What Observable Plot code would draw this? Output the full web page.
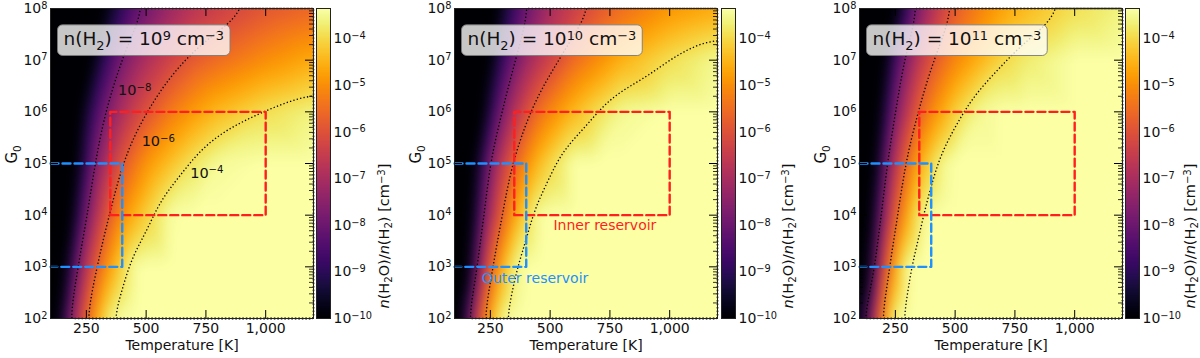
<!DOCTYPE html>
<html><head><meta charset="utf-8">
<script src="https://cdn.jsdelivr.net/npm/d3@7"></script>
<script src="https://cdn.jsdelivr.net/npm/@observablehq/plot@0.6"></script>
<style>
body{margin:0;background:#fff;}
#root{position:relative;width:1200px;height:358px;overflow:hidden;background:#fff;}
#root svg{position:absolute;top:0;}
</style></head><body><div id="root"></div>
<script>
// ---------- data ----------
const temperatures = [100,125,150,175,200,225,250,300,350,400,450,500,600,700,800,1000,1200];
const logG0 = [2,3,4,5,6,7,8];
const densityExponents = [9,10,11];
// log10 n(H2O)/n(H2); rows = logG0, columns = temperatures
const logAbundance9 = [
 [-11,-11,-9.4,-8.1,-7.1,-6.4,-5.7,-4.5,-3.6,-3.35,-3.35,-3.35,-3.35,-3.35,-3.35,-3.35,-3.35],
 [-11,-11,-10.9,-9.4,-8.3,-7.4,-6.7,-5.6,-4.7,-4.0,-3.4,-3.35,-3.35,-3.35,-3.35,-3.35,-3.35],
 [-11,-11,-11,-10.9,-9.6,-8.6,-7.8,-6.6,-5.7,-5.0,-4.5,-4.1,-3.4,-3.35,-3.35,-3.35,-3.35],
 [-11,-11,-11,-11,-10.5,-9.5,-8.7,-7.4,-6.6,-5.9,-5.4,-4.9,-4.3,-3.8,-3.45,-3.35,-3.35],
 [-11,-11,-11,-11,-11,-10.2,-9.4,-8.3,-7.5,-6.9,-6.4,-6.0,-5.3,-4.8,-4.4,-3.9,-3.6],
 [-11,-11,-11,-11,-11,-11,-10.6,-9.4,-8.5,-7.8,-7.3,-6.9,-6.3,-5.8,-5.5,-5.0,-4.6],
 [-11,-11,-11,-11,-11,-11,-11,-10.5,-9.6,-8.9,-8.3,-7.9,-7.2,-6.7,-6.4,-5.9,-5.6]
];
const logAbundance10 = [
 [-11,-10.7,-8.7,-7.3,-6.3,-5.3,-4.6,-3.5,-3.35,-3.35,-3.35,-3.35,-3.35,-3.35,-3.35,-3.35,-3.35],
 [-11,-11,-10.8,-9.0,-7.7,-6.6,-5.8,-4.5,-3.6,-3.35,-3.35,-3.35,-3.35,-3.35,-3.35,-3.35,-3.35],
 [-11,-11,-11,-10.0,-8.7,-7.7,-6.9,-5.7,-4.7,-4.0,-3.4,-3.35,-3.35,-3.35,-3.35,-3.35,-3.35],
 [-11,-11,-11,-10.7,-9.5,-8.5,-7.7,-6.5,-5.7,-5.0,-4.4,-4.0,-3.35,-3.35,-3.35,-3.35,-3.35],
 [-11,-11,-11,-11,-10.9,-9.9,-9.0,-7.7,-6.8,-6.1,-5.5,-5.1,-4.4,-3.9,-3.5,-3.35,-3.35],
 [-11,-11,-11,-11,-11,-10.9,-10.0,-8.8,-7.9,-7.2,-6.7,-6.3,-5.5,-5.0,-4.5,-3.9,-3.5],
 [-11,-11,-11,-11,-11,-11,-10.9,-9.6,-8.7,-8.0,-7.5,-7.0,-6.4,-5.9,-5.5,-4.9,-4.6]
];
const logAbundance11 = [
 [-11,-8.8,-7.3,-6.2,-5.1,-4.2,-3.5,-3.35,-3.35,-3.35,-3.35,-3.35,-3.35,-3.35,-3.35,-3.35,-3.35],
 [-11,-11,-9.1,-7.5,-6.3,-5.4,-4.6,-3.4,-3.35,-3.35,-3.35,-3.35,-3.35,-3.35,-3.35,-3.35,-3.35],
 [-11,-11,-10.2,-8.6,-7.5,-6.6,-5.8,-4.6,-3.7,-3.35,-3.35,-3.35,-3.35,-3.35,-3.35,-3.35,-3.35],
 [-11,-11,-11,-9.7,-8.4,-7.4,-6.7,-5.5,-4.6,-4.0,-3.5,-3.35,-3.35,-3.35,-3.35,-3.35,-3.35],
 [-11,-11,-11,-10.7,-9.4,-8.5,-7.7,-6.6,-5.7,-5.1,-4.6,-4.1,-3.5,-3.35,-3.35,-3.35,-3.35],
 [-11,-11,-11,-11,-10.4,-9.4,-8.6,-7.5,-6.6,-6.0,-5.5,-5.1,-4.5,-4.0,-3.7,-3.35,-3.35],
 [-11,-11,-11,-11,-11,-11,-10.1,-8.7,-7.6,-6.9,-6.3,-5.8,-5.2,-4.7,-4.4,-3.9,-3.6]
];
const contourLevels = [-8,-6,-4];
const colorDomainLog = [-10,-3.35];
const colorTickExponents = [-10,-9,-8,-7,-6,-5,-4];
const tempTicks = [250,500,750,1000];
const g0TickExponents = [2,3,4,5,6,7,8];
const innerT = [350,1000], innerG0 = [1e4,1e6];
const outerT = [100,400], outerG0 = [1e3,1e5];
const contourLabelText = ["10⁻⁸","10⁻⁶","10⁻⁴"];
const contourLabelT = [452,551,754];
const contourLabelG0 = [2.6e6,2.7e5,6.5e4];
const reservoirNames = ["Inner reservoir","Outer reservoir"];
const reservoirColors = ["#ff1f1f","#1e90ff"];
const reservoirLabelT = [729,437];
const reservoirLabelG0 = [6.2e3,6.0e2];

// ---------- helpers ----------
const SUP = {"0":"⁰","1":"¹","2":"²","3":"³","4":"⁴","5":"⁵","6":"⁶","7":"⁷","8":"⁸","9":"⁹","-":"⁻"};
const SUPBACK = {"⁰":"0","¹":"1","²":"2","³":"3","⁴":"4","⁵":"5","⁶":"6","⁷":"7","⁸":"8","⁹":"9","⁻":"−"};
const SUBBACK = {"₀":"0","₁":"1","₂":"2","₃":"3"};
const powLabel = e => "10" + [...String(e)].map(c => SUP[c]).join("");
const FONT = "DejaVu Sans";
const FW = 263, FH = 310, ML = 50, MT = 8, MB = 40;
const panelLeft = [0,404,809];
const cbLeft = [316,721,1125];
const cbLabelDx = [54,53,51];
const abundances = [logAbundance9, logAbundance10, logAbundance11];
const cbLabel = "n(H₂O)/n(H₂) [cm⁻³]";
const colorScale = {type:"linear", scheme:"inferno", domain: colorDomainLog, clamp:true};
const root = document.getElementById("root");

function place(svg, left) {
  svg.style.position = "absolute";
  svg.style.left = left + "px";
  svg.style.top = "0px";
  root.appendChild(svg);
  return svg;
}
const esc = s => s.replace(/&/g,"&amp;").replace(/</g,"&lt;");
// render unicode super/subscripts as mathtext-like raised/lowered smaller tspans
function mathify(el, italicN) {
  const chars = [...el.textContent];
  if (!chars.some(c => SUPBACK[c] || SUBBACK[c])) return;
  const fs = parseFloat(getComputedStyle(el).fontSize) || 14;
  const kindOf = c => SUPBACK[c] ? "sup" : SUBBACK[c] ? "sub" : "n";
  let html = "", shift = 0, i = 0;
  while (i < chars.length) {
    const kind = kindOf(chars[i]);
    let run = "";
    while (i < chars.length && kindOf(chars[i]) === kind) { run += SUPBACK[chars[i]] || SUBBACK[chars[i]] || chars[i]; i++; }
    const target = kind === "sup" ? -0.3 * fs : kind === "sub" ? 0.22 * fs : 0;
    const dy = +(target - shift).toFixed(2); shift = target;
    let attrs = (kind !== "n" ? ` font-size="${(0.7 * fs).toFixed(2)}"` : "") + (dy !== 0 ? ` dy="${dy}"` : "");
    let body = esc(run);
    if (italicN && kind === "n") body = body.replace(/\bn\(/g, '<tspan font-style="italic">n</tspan>(');
    html += attrs ? `<tspan${attrs}>${body}</tspan>` : body;
  }
  el.innerHTML = html;
}

function mainPanel(k) {
  const grid = [];
  abundances[k].forEach((row, r) => row.forEach((v, c) =>
    grid.push({T: temperatures[c], G: Math.pow(10, logG0[r]), v})));
  const ext = {x1: temperatures[0], x2: temperatures[temperatures.length-1],
               y1: Math.pow(10, logG0[0]), y2: Math.pow(10, logG0[logG0.length-1])};
  const inner = [[innerT[0],innerG0[0]],[innerT[1],innerG0[0]],[innerT[1],innerG0[1]],[innerT[0],innerG0[1]],[innerT[0],innerG0[0]]];
  const outer = [[outerT[0],outerG0[1]],[outerT[1],outerG0[1]],[outerT[1],outerG0[0]],[outerT[0],outerG0[0]]];
  const g0Major = g0TickExponents.map(e => Math.pow(10, e));
  const g0Minor = [];
  for (let e = g0TickExponents[0]; e < g0TickExponents[g0TickExponents.length-1]; e++)
    for (let m = 2; m <= 9; m++) g0Minor.push(m * Math.pow(10, e));
  const boxLabel = "n(H₂) = " + powLabel(densityExponents[k]) + " cm⁻³";
  const marks = [
    Plot.raster(grid, {x:"T", y:"G", fill:"v", interpolate:"barycentric", blur:5, ...ext}),
    Plot.contour(grid, {x:"T", y:"G", value:"v", interpolate:"barycentric", ...ext, blur:8,
      thresholds: contourLevels, stroke:"black", fill:"none", strokeWidth:1.3, strokeDasharray:"1.3,2.2"}),
    Plot.line(inner, {x:d=>d[0], y:d=>d[1], stroke:reservoirColors[0], strokeWidth:2.4, strokeDasharray:"8,4"}),
    Plot.line(outer, {x:d=>d[0], y:d=>d[1], stroke:reservoirColors[1], strokeWidth:2.4, strokeDasharray:"8,4"}),
    Plot.tickX(tempTicks, {x:d=>d, insetTop: FH-8, stroke:"black"}),
    Plot.tickX(tempTicks, {x:d=>d, insetBottom: FH-8, stroke:"black"}),
    Plot.tickY(g0Major, {y:d=>d, insetLeft: FW-8, stroke:"black"}),
    Plot.tickY(g0Major, {y:d=>d, insetRight: FW-8, stroke:"black"}),
    Plot.tickY(g0Minor, {y:d=>d, insetLeft: FW-4, stroke:"black", strokeWidth:0.8}),
    Plot.tickY(g0Minor, {y:d=>d, insetRight: FW-4, stroke:"black", strokeWidth:0.8}),
    Plot.frame({stroke:"#222"}),
    Plot.axisX(tempTicks, {anchor:"bottom", tickSize:0, tickPadding:5, fontSize:14, label:null, fill:"#111"}),
    Plot.axisY(g0Major, {anchor:"left", tickSize:0, tickPadding:3, fontSize:14, label:null, fill:"#111",
      tickFormat: d => powLabel(Math.round(Math.log10(d)))}),
    Plot.text(["Temperature [K]"], {text:d=>d, frameAnchor:"bottom", dy:31, fontSize:14, fill:"#111"}),
    Plot.text(["G₀"], {text:d=>d, frameAnchor:"left", dx:-38, rotate:-90, fontSize:15, fill:"#111"}),
    Plot.text([boxLabel], {text:d=>d, frameAnchor:"top-left", lineAnchor:"middle", dx:13, dy:31, textAnchor:"start", fontSize:18.5, fill:"#111"})
  ];
  if (k === 0) {
    marks.push(Plot.text(contourLabelText, {x:(d,i)=>contourLabelT[i], y:(d,i)=>contourLabelG0[i], text:d=>d, fontSize:14.5, fill:"#111"}));
  }
  if (k === 1) {
    marks.push(Plot.text(reservoirNames, {x:(d,i)=>reservoirLabelT[i], y:(d,i)=>reservoirLabelG0[i], text:d=>d, fontSize:14,
      fill:(d,i)=>reservoirColors[i]}));
  }
  const svg = Plot.plot({
    width: ML + FW + 2, height: MT + FH + MB,
    marginLeft: ML, marginRight: 2, marginTop: MT, marginBottom: MB,
    x: {domain: [ext.x1, ext.x2], axis: null},
    y: {type: "log", domain: [ext.y1, ext.y2], axis: null},
    color: colorScale,
    style: {fontFamily: FONT, fontSize: "14px", overflow: "visible", background: "transparent"},
    marks
  });
  place(svg, panelLeft[k]);
  let boxEl = null;
  d3.select(svg).selectAll("text").each(function(){
    if (this.textContent === boxLabel) boxEl = this;
    mathify(this, false);
  });
  // rounded translucent box behind the density label
  if (boxEl) {
    const b = boxEl.getBBox();
    const rect = document.createElementNS("http://www.w3.org/2000/svg", "rect");
    rect.setAttribute("x", b.x - 6); rect.setAttribute("y", b.y - 3);
    rect.setAttribute("width", b.width + 12); rect.setAttribute("height", b.height + 6);
    rect.setAttribute("rx", 5); rect.setAttribute("fill", "white"); rect.setAttribute("fill-opacity", 0.78);
    rect.setAttribute("stroke", "#7a7a7a"); rect.setAttribute("stroke-opacity", 0.9);
    const tr = boxEl.getAttribute("transform");
    if (tr) rect.setAttribute("transform", tr);
    boxEl.parentNode.insertBefore(rect, boxEl);
  }
}

function colorbar(k) {
  const w = k === 2 ? 75 : 84;
  const svg = Plot.plot({
    width: w, height: MT + FH + MB,
    marginLeft: 0, marginRight: w - 14, marginTop: MT, marginBottom: MB,
    x: {domain: [0,1], axis: null},
    y: {domain: colorDomainLog, axis: null},
    color: colorScale,
    style: {fontFamily: FONT, fontSize: "14px", overflow: "visible", background: "transparent"},
    marks: [
      Plot.raster({fill: (x, y) => y, x1: 0, x2: 1, y1: colorDomainLog[0], y2: colorDomainLog[1]}),
      Plot.frame({stroke:"#222"}),
      Plot.axisY(colorTickExponents, {anchor:"right", tickSize:0, tickPadding:3, fontSize:14, label:null, fill:"#111",
        tickFormat: powLabel}),
      Plot.text([cbLabel], {text:d=>d, frameAnchor:"right", dx:cbLabelDx[k], rotate:-90, fontSize:14.5, fill:"#111"})
    ]
  });
  place(svg, cbLeft[k]);
  d3.select(svg).selectAll("text").each(function(){
    mathify(this, this.textContent === cbLabel);
  });
}

for (let k = 0; k < 3; k++) { mainPanel(k); colorbar(k); }
</script></body></html>
